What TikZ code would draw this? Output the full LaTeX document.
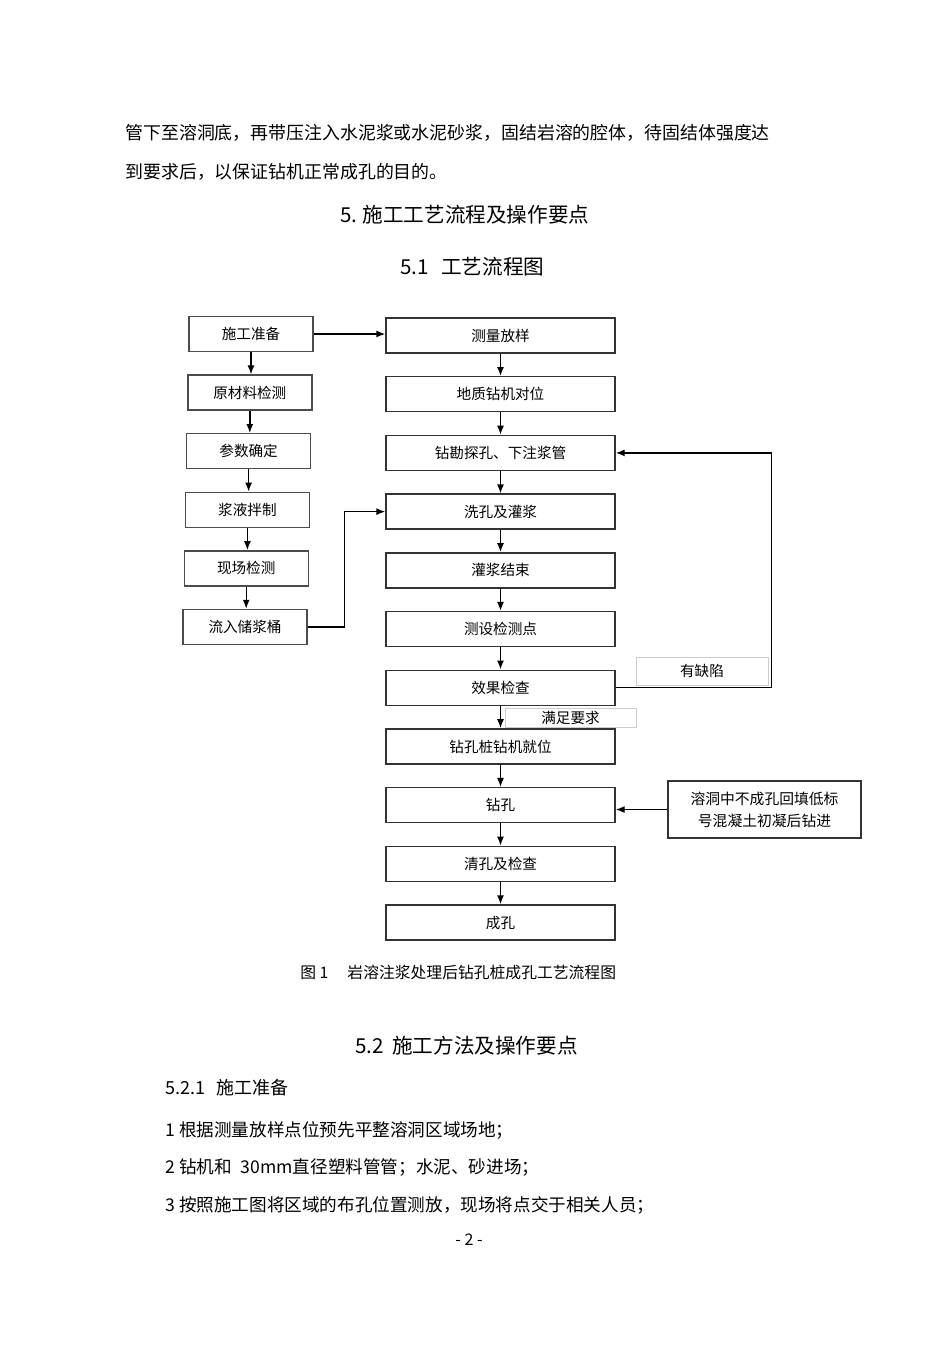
\documentclass[tikz,border=0pt]{standalone}
\usepackage{fontspec}
\setmainfont{Noto Sans CJK SC}
\usetikzlibrary{positioning,arrows.meta}

\begin{document}
\begin{tikzpicture}[x=0.5pt,y=-0.5pt,
    stepbox/.style={draw=black!80,line width=0.7pt,minimum width=114.5pt,minimum height=17.5pt,
      inner sep=0pt,font=\fontsize{7.3}{9}\selectfont},
    leftbox/.style={stepbox,draw=black!70,minimum width=62pt},
    tagbox/.style={draw=black!20,line width=0.5pt,fill=white,inner sep=0pt,
      font=\fontsize{7.3}{9}\selectfont},
    arr/.style={-{Latex[length=4.5pt,width=3.5pt]},line width=0.7pt},
    body/.style={anchor=west,inner sep=0pt,font=\fontsize{9}{11}\selectfont}]

    \useasboundingbox[fill=white] (0,0) rectangle (950,1345);

    % text above the chart
    \node[body,font=\fontsize{8.95}{11}\selectfont] (p1) at (125,133) {管下至溶洞底，再带压注入水泥浆或水泥砂浆，固结岩溶的腔体，待固结体强度达};
    \node[body,font=\fontsize{8.95}{11}\selectfont] (p2) at (125,172) {到要求后，以保证钻机正常成孔的目的。};
    \node[body,font=\fontsize{10.3}{12}\selectfont] (h5) at (340,215) {5.\hspace{0.25em}施工工艺流程及操作要点};
    \node[body,font=\fontsize{10.3}{12}\selectfont] (h51) at (400,267) {5.1\hspace{0.6em}工艺流程图};

    % left column
    \foreach \i/\t in {1/施工准备,2/原材料检测,3/参数确定,4/浆液拌制,5/现场检测,6/流入储浆桶}
      \node[leftbox] (l\i) at ({251-1.2*(\i-1)},{334+58.6*(\i-1)}) {\t};

    % right column
    \foreach \i/\t in {1/测量放样,2/地质钻机对位,3/钻勘探孔、下注浆管,4/洗孔及灌浆,5/灌浆结束,
      6/测设检测点,7/效果检查,8/钻孔桩钻机就位,9/钻孔,10/清孔及检查,11/成孔}
      \node[stepbox] (r\i) at (500.5,{335.5+58.7*(\i-1)}) {\t};

    \foreach \i [evaluate=\i as \j using int(\i+1)] in {1,...,5}
      \draw[arr] (l\i.south) -- (l\i.south |- l\j.north);
    \foreach \i [evaluate=\i as \j using int(\i+1)] in {1,...,10}
      \draw[arr] (r\i) -- (r\j);

    % side notes
    \node[tagbox,minimum width=66pt,minimum height=14pt] (bad) at (702,671) {有缺陷};
    \node[tagbox,minimum width=65.5pt,minimum height=9.5pt] (ok) at (570.5,718) {满足要求};
    \node[stepbox,minimum width=96.5pt,minimum height=28.5pt,align=center,
      font=\fontsize{7.4}{11}\selectfont] (note) at (764.5,809.5) {溶洞中不成孔回填低标\\号混凝土初凝后钻进};

    % connectors
    \draw[arr] (l1.east) -- (l1.east -| r1.west);
    \draw[arr] (l6.east) -- ++(37,0) |- (r4.west);
    \draw[arr] (r7.east) -- ++(156,0) |- (r3.east);
    \draw[arr] (note.west) -- (note.west -| r9.east);

    % caption and text below
    \node[body,font=\fontsize{7.9}{10}\selectfont] (cap) at (300,972) {图 1\hspace{1.2em}岩溶注浆处理后钻孔桩成孔工艺流程图};
    \node[body,font=\fontsize{10.3}{12}\selectfont] (h52) at (355,1046) {5.2\hspace{0.4em}施工方法及操作要点};
    \node[body] (h521) at (165,1088) {5.2.1\hspace{0.6em}施工准备};
    \node[body,font=\fontsize{8.8}{11}\selectfont] (q1) at (165,1130) {1 根据测量放样点位预先平整溶洞区域场地；};
    \node[body,font=\fontsize{8.8}{11}\selectfont] (q2) at (165,1167) {2 钻机和\hspace{0.5em}30mm直径塑料管管；水泥、砂进场；};
    \node[body,font=\fontsize{8.8}{11}\selectfont] (q3) at (165,1205) {3 按照施工图将区域的布孔位置测放，现场将点交于相关人员；};
    \node[body,font=\fontsize{8}{10}\selectfont] (pg) at (455,1240) {- 2 -};

\end{tikzpicture}
\end{document}
